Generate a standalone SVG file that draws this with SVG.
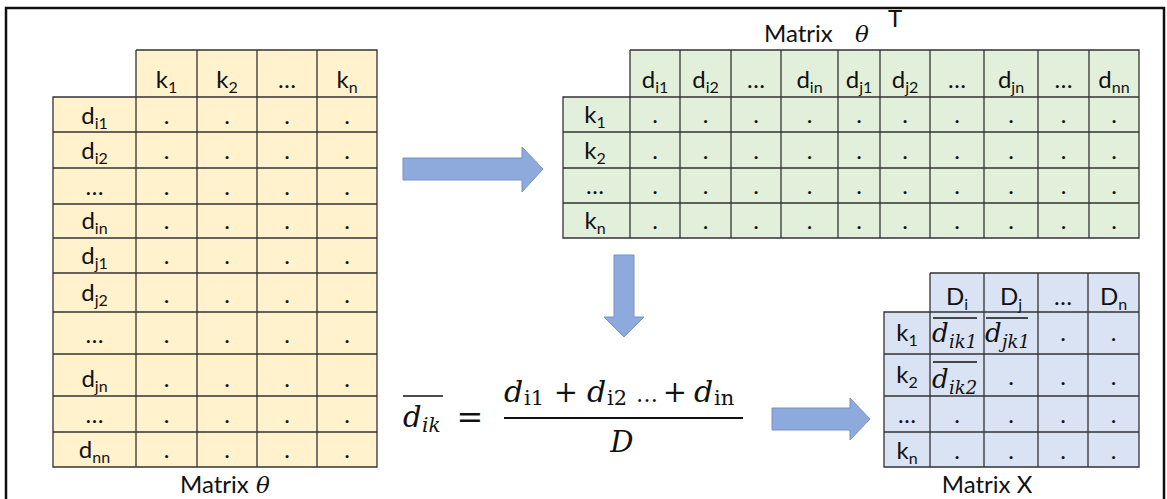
<svg xmlns="http://www.w3.org/2000/svg" width="1167" height="499" viewBox="0 0 1167 499">
<style>
.bg{fill:#fff}
.frame{fill:none;stroke:#111;stroke-width:2.5}
.y{fill:#FFF2CC}
.g{fill:#E2EFDA}
.b{fill:#DAE3F3}
.grid{fill:none;stroke:#333;stroke-width:1.3}
.t{font-family:Lato,"Open Sans",sans-serif;font-size:24px;fill:#111;text-anchor:middle}
.s{font-size:16px}
.lab{font-family:Lato,"Open Sans",sans-serif;font-size:24px;fill:#111}
.m{font-family:"DejaVu Serif","Liberation Serif",serif;font-style:italic;fill:#111}
.mr{font-family:"DejaVu Serif","Liberation Serif",serif;fill:#111}
.ol{stroke:#111;stroke-width:1.5}
.arrow{fill:#8EA9DB;stroke:#7491C9;stroke-width:1}
</style>
<rect class="bg" width="1167" height="499"/>
<rect class="frame" x="6" y="8" width="1158" height="500"/>

<g id="matrix-theta">
<rect class="y" x="136" y="50" width="241" height="47"/>
<rect class="y" x="53" y="97" width="324" height="370"/>
<path class="grid" d="M136 50H377V467H53V97H377M136 50V467M197 50V467M257 50V467M317 50V467M53 132H377M53 168H377M53 204H377M53 238H377M53 273H377M53 312H377M53 354H377M53 396H377M53 432H377"/>
<text class="t" x="166.5" y="88">k<tspan class="s" dy="5">1</tspan></text>
<text class="t" x="227" y="88">k<tspan class="s" dy="5">2</tspan></text>
<text class="t" x="287" y="88">…</text>
<text class="t" x="347" y="88">k<tspan class="s" dy="5">n</tspan></text>
<text class="t" x="94.5" y="124">d<tspan class="s" dy="5">i1</tspan></text>
<text class="t" x="94.5" y="159">d<tspan class="s" dy="5">i2</tspan></text>
<text class="t" x="94.5" y="195">…</text>
<text class="t" x="94.5" y="229">d<tspan class="s" dy="5">in</tspan></text>
<text class="t" x="94.5" y="264">d<tspan class="s" dy="5">j1</tspan></text>
<text class="t" x="94.5" y="301">d<tspan class="s" dy="5">j2</tspan></text>
<text class="t" x="94.5" y="343">…</text>
<text class="t" x="94.5" y="387">d<tspan class="s" dy="5">jn</tspan></text>
<text class="t" x="94.5" y="423">…</text>
<text class="t" x="94.5" y="458">d<tspan class="s" dy="5">nn</tspan></text>
<g class="t">
<text x="166.5" y="124">.</text><text x="227" y="124">.</text><text x="287" y="124">.</text><text x="347" y="124">.</text>
<text x="166.5" y="159">.</text><text x="227" y="159">.</text><text x="287" y="159">.</text><text x="347" y="159">.</text>
<text x="166.5" y="195">.</text><text x="227" y="195">.</text><text x="287" y="195">.</text><text x="347" y="195">.</text>
<text x="166.5" y="229">.</text><text x="227" y="229">.</text><text x="287" y="229">.</text><text x="347" y="229">.</text>
<text x="166.5" y="264">.</text><text x="227" y="264">.</text><text x="287" y="264">.</text><text x="347" y="264">.</text>
<text x="166.5" y="303">.</text><text x="227" y="303">.</text><text x="287" y="303">.</text><text x="347" y="303">.</text>
<text x="166.5" y="343">.</text><text x="227" y="343">.</text><text x="287" y="343">.</text><text x="347" y="343">.</text>
<text x="166.5" y="387">.</text><text x="227" y="387">.</text><text x="287" y="387">.</text><text x="347" y="387">.</text>
<text x="166.5" y="423">.</text><text x="227" y="423">.</text><text x="287" y="423">.</text><text x="347" y="423">.</text>
<text x="166.5" y="458">.</text><text x="227" y="458">.</text><text x="287" y="458">.</text><text x="347" y="458">.</text>
</g>
<text class="lab" x="180" y="493">Matrix</text>
<text class="m" x="256" y="493" font-size="23">θ</text>
</g>

<g id="matrix-theta-T">
<text class="lab" x="764" y="42">Matrix</text>
<text class="m" x="855" y="42" font-size="23">θ</text>
<text class="lab" x="888" y="27" font-size="13">T</text>
<rect class="g" x="630" y="50" width="509" height="47"/>
<rect class="g" x="563" y="97" width="576" height="141"/>
<path class="grid" d="M630 50H1139V238H563V97H1139M630 50V238M680 50V238M731 50V238M781 50V238M838 50V238M880 50V238M930 50V238M984 50V238M1038 50V238M1089 50V238M563 132H1139M563 168H1139M563 203H1139"/>
<text class="t" x="655" y="88">d<tspan class="s" dy="5">i1</tspan></text>
<text class="t" x="705.5" y="88">d<tspan class="s" dy="5">i2</tspan></text>
<text class="t" x="756" y="88">…</text>
<text class="t" x="809.5" y="88">d<tspan class="s" dy="5">in</tspan></text>
<text class="t" x="859" y="88">d<tspan class="s" dy="5">j1</tspan></text>
<text class="t" x="905" y="88">d<tspan class="s" dy="5">j2</tspan></text>
<text class="t" x="957" y="88">…</text>
<text class="t" x="1011" y="88">d<tspan class="s" dy="5">jn</tspan></text>
<text class="t" x="1063.5" y="88">…</text>
<text class="t" x="1114" y="88">d<tspan class="s" dy="5">nn</tspan></text>
<text class="t" x="595" y="123">k<tspan class="s" dy="5">1</tspan></text>
<text class="t" x="595" y="159">k<tspan class="s" dy="5">2</tspan></text>
<text class="t" x="595" y="194">…</text>
<text class="t" x="595" y="229">k<tspan class="s" dy="5">n</tspan></text>
<g class="t">
<text x="655" y="123">.</text><text x="705.5" y="123">.</text><text x="756" y="123">.</text><text x="809.5" y="123">.</text><text x="859" y="123">.</text><text x="905" y="123">.</text><text x="957" y="123">.</text><text x="1011" y="123">.</text><text x="1063.5" y="123">.</text><text x="1114" y="123">.</text>
<text x="655" y="159">.</text><text x="705.5" y="159">.</text><text x="756" y="159">.</text><text x="809.5" y="159">.</text><text x="859" y="159">.</text><text x="905" y="159">.</text><text x="957" y="159">.</text><text x="1011" y="159">.</text><text x="1063.5" y="159">.</text><text x="1114" y="159">.</text>
<text x="655" y="194">.</text><text x="705.5" y="194">.</text><text x="756" y="194">.</text><text x="809.5" y="194">.</text><text x="859" y="194">.</text><text x="905" y="194">.</text><text x="957" y="194">.</text><text x="1011" y="194">.</text><text x="1063.5" y="194">.</text><text x="1114" y="194">.</text>
<text x="655" y="229">.</text><text x="705.5" y="229">.</text><text x="756" y="229">.</text><text x="809.5" y="229">.</text><text x="859" y="229">.</text><text x="905" y="229">.</text><text x="957" y="229">.</text><text x="1011" y="229">.</text><text x="1063.5" y="229">.</text><text x="1114" y="229">.</text>
</g>
</g>

<g id="formula">
<line class="ol" x1="403" y1="396" x2="443" y2="396"/>
<text class="m" x="403" y="427" font-size="29">d</text>
<text class="m" x="422" y="432" font-size="20">ik</text>
<text class="mr" x="470" y="428" font-size="32" text-anchor="middle">=</text>
<line x1="504" y1="418" x2="743" y2="418" stroke="#111" stroke-width="2"/>
<text class="m" x="504" y="402" font-size="30">d</text>
<text class="mr" x="524" y="405" font-size="21">i1</text>
<text class="mr" x="566" y="402" font-size="29" text-anchor="middle">+</text>
<text class="m" x="587" y="402" font-size="30">d</text>
<text class="mr" x="607" y="405" font-size="21">i2</text>
<text class="mr" x="636" y="402" font-size="22">…</text>
<text class="mr" x="675" y="402" font-size="29" text-anchor="middle">+</text>
<text class="m" x="694" y="402" font-size="30">d</text>
<text class="mr" x="714" y="405" font-size="21">in</text>
<text class="m" x="622" y="452" font-size="29" text-anchor="middle">D</text>
</g>

<g id="matrix-X">
<rect class="b" x="930" y="273" width="209" height="39"/>
<rect class="b" x="884" y="312" width="255" height="155"/>
<path class="grid" d="M930 273H1139V467H884V312H1139M930 273V467M984 273V467M1038 273V467M1088 273V467M884 354H1139M884 396H1139M884 432H1139"/>
<text class="t" x="957" y="305">D<tspan class="s" dy="5">i</tspan></text>
<text class="t" x="1011" y="305">D<tspan class="s" dy="5">j</tspan></text>
<text class="t" x="1063" y="305">…</text>
<text class="t" x="1113.5" y="305">D<tspan class="s" dy="5">n</tspan></text>
<text class="t" x="907" y="341">k<tspan class="s" dy="5">1</tspan></text>
<text class="t" x="907" y="383">k<tspan class="s" dy="5">2</tspan></text>
<text class="t" x="907" y="423">…</text>
<text class="t" x="907" y="459">k<tspan class="s" dy="5">n</tspan></text>
<line class="ol" x1="933" y1="318" x2="977" y2="318"/>
<text class="m" x="932" y="342" font-size="26">d</text>
<text class="m" x="949" y="348" font-size="18">ik1</text>
<line class="ol" x1="986" y1="318" x2="1028" y2="318"/>
<text class="m" x="985" y="342" font-size="26">d</text>
<text class="m" x="1002" y="348" font-size="18">jk1</text>
<line class="ol" x1="933" y1="362" x2="977" y2="362"/>
<text class="m" x="932" y="388" font-size="26">d</text>
<text class="m" x="949" y="394" font-size="18">ik2</text>
<g class="t">
<text x="1063" y="341">.</text><text x="1113.5" y="341">.</text>
<text x="1011" y="385">.</text><text x="1063" y="385">.</text><text x="1113.5" y="385">.</text>
<text x="957" y="423">.</text><text x="1011" y="423">.</text><text x="1063" y="423">.</text><text x="1113.5" y="423">.</text>
<text x="957" y="459">.</text><text x="1011" y="459">.</text><text x="1063" y="459">.</text><text x="1113.5" y="459">.</text>
</g>
<text class="lab" x="987" y="493" text-anchor="middle">Matrix  X</text>
</g>

<g id="connectors">
<polygon class="arrow" points="403,158 522,158 522,147 543,169 522,192 522,180 403,180"/>
<polygon class="arrow" points="614,255 634,255 634,317 644,317 624,337 604,317 614,317"/>
<polygon class="arrow" points="772,408 850,408 850,398 870,419 850,440 850,430 772,430"/>
</g>
</svg>
